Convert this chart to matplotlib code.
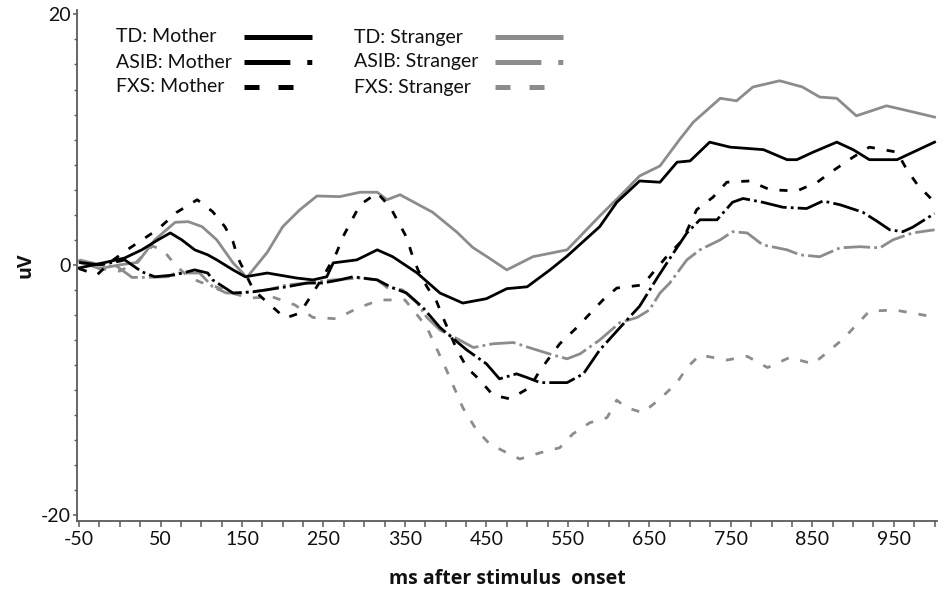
import matplotlib
matplotlib.use('Agg')
import matplotlib.pyplot as plt
from matplotlib.lines import Line2D
from matplotlib.ticker import MultipleLocator, FixedLocator

plt.rcParams['font.family'] = ['Lato', 'DejaVu Sans']
plt.rcParams['lines.scale_dashes'] = False
plt.rcParams['axes.unicode_minus'] = False

BLACK = '#000000'
GRAY = '#8c8c8c'
TEXT = '#111111'
AXIS = '#5a5a5a'

# TD: Mother (black solid)
td_m_t = [-50, -14, 6, 27, 47, 62, 76, 92, 108, 119, 139, 154, 181, 217, 237, 254, 262, 291, 316,
          335, 365, 393, 421, 450, 475, 500, 528, 549, 589, 610, 638, 663, 684, 700, 724, 749, 790,
          819, 831, 851, 880, 900, 920, 954, 1000]
td_m_v = [-0.25, 0.25, 0.55, 1.2, 2.0, 2.55, 2.0, 1.2, 0.8, 0.4, -0.4, -0.95, -0.65, -1.05, -1.2,
          -0.95, 0.16, 0.4, 1.2, 0.65, -0.65, -2.25, -3.05, -2.7, -1.9, -1.75, -0.4, 0.7, 3.05, 5.0,
          6.7, 6.6, 8.2, 8.3, 9.8, 9.4, 9.2, 8.4, 8.4, 9.0, 9.8, 9.2, 8.4, 8.4, 9.8]

# ASIB: Mother (black dash-dot)
asib_m_t = [-50, -25, 0, 6, 27, 43, 68, 92, 108, 114, 139, 164, 205, 230, 249, 270, 286, 316, 332,
            352, 372, 393, 426, 450, 466, 487, 500, 516, 549, 569, 589, 614, 638, 660, 680, 696,
            712, 733, 752, 765, 789, 814, 843, 863, 884, 912, 929, 945, 961, 973, 1000]
asib_m_v = [0.2, 0.0, 0.3, 0.4, -0.55, -0.95, -0.8, -0.4, -0.65, -1.2, -2.25, -2.15, -1.75, -1.45,
            -1.45, -1.2, -0.95, -1.2, -1.75, -2.25, -3.4, -5.0, -6.8, -7.9, -9.1, -8.7, -9.0, -9.4,
            -9.4, -8.7, -6.8, -5.0, -3.3, -1.0, 1.0, 2.55, 3.6, 3.6, 5.0, 5.3, 5.0, 4.6, 4.5, 5.1,
            4.8, 4.2, 3.5, 2.8, 2.65, 3.0, 4.1]

# FXS: Mother (black short dashes)
fxs_m_t = [-50, -28, -10, 9, 46, 70, 95, 114, 129, 139, 145, 164, 182, 203, 221, 233, 250, 266, 274,
           285, 295, 316, 332, 342, 352, 358, 366, 377, 389, 397, 414, 426, 442, 458, 479, 503, 516,
           540, 561, 577, 593, 610, 642, 654, 671, 691, 708, 728, 745, 773, 798, 831, 856, 875, 900,
           920, 954, 966, 979, 1000]
fxs_m_v = [-0.3, -0.8, 0.3, 1.2, 2.8, 4.2, 5.2, 4.25, 3.05, 1.85, 0.56, -2.0, -3.05, -4.25, -3.85,
           -2.65, -0.9, 0.96, 2.25, 3.6, 4.8, 5.75, 4.6, 3.4, 2.2, 0.96, -0.4, -1.75, -2.95, -4.25,
           -6.8, -8.2, -9.2, -10.4, -10.7, -9.8, -8.4, -6.3, -5.0, -3.9, -2.8, -1.85, -1.6, -0.65,
           0.65, 2.0, 4.4, 5.4, 6.6, 6.7, 6.0, 5.9, 6.6, 7.5, 8.6, 9.4, 9.0, 7.6, 6.4, 5.0]

# TD: Stranger (gray solid)
td_s_t = [-50, -25, 0, 22, 43, 68, 84, 101, 119, 139, 156, 181, 200, 221, 242, 270, 295, 316, 328,
          344, 384, 414, 433, 452, 475, 507, 549, 589, 614, 638, 663, 687, 704, 737, 757, 777, 810,
          838, 859, 880, 904, 941, 961, 1000]
td_s_v = [0.3, -0.3, 0.0, 0.2, 2.0, 3.4, 3.45, 3.05, 2.0, 0.16, -1.0, 1.0, 3.05, 4.4, 5.5, 5.45,
          5.8, 5.8, 5.2, 5.6, 4.2, 2.6, 1.4, 0.6, -0.4, 0.65, 1.2, 3.9, 5.5, 7.1, 7.9, 10.0, 11.4,
          13.3, 13.1, 14.2, 14.7, 14.2, 13.4, 13.3, 11.9, 12.7, 12.4, 11.8]

# ASIB: Stranger (gray dash-dot)
asib_s_t = [-50, -14, -6, 15, 31, 59, 68, 98, 114, 131, 147, 181, 205, 230, 262, 295, 316, 328, 347,
            365, 377, 393, 417, 434, 458, 483, 507, 532, 549, 565, 589, 614, 635, 650, 663, 675,
            696, 712, 737, 752, 770, 789, 819, 835, 859, 884, 908, 933, 949, 973, 1000]
asib_s_v = [0.4, -0.15, 0.0, -1.0, -1.0, -0.95, -0.65, -0.65, -1.75, -2.25, -2.25, -2.0, -1.6,
            -1.45, -1.2, -1.05, -1.2, -1.8, -2.0, -3.05, -4.2, -5.2, -6.0, -6.6, -6.3, -6.2, -6.7,
            -7.2, -7.5, -7.1, -6.0, -4.6, -4.2, -3.6, -2.25, -1.45, 0.4, 1.2, 2.0, 2.65, 2.55, 1.6,
            1.2, 0.8, 0.65, 1.36, 1.45, 1.36, 2.0, 2.55, 2.8]

# FXS: Stranger (gray short dashes)
fxs_s_t = [-50, -25, 0, 20, 40, 53, 68, 85, 100, 120, 140, 160, 187, 215, 237, 266, 292, 319, 350,
           365, 377, 401, 421, 438, 454, 475, 491, 516, 540, 556, 577, 598, 610, 622, 642, 663, 684,
           696, 712, 745, 770, 795, 822, 851, 868, 888, 904, 920, 951, 986, 1000]
fxs_s_v = [0.2, -0.3, -0.5, 0.2, 1.5, 1.2, 0.0, -1.0, -1.4, -1.8, -2.3, -2.65, -2.55, -3.2, -4.2,
           -4.3, -3.45, -2.8, -2.8, -4.0, -5.0, -8.4, -11.4, -13.2, -14.3, -15.0, -15.5, -15.0,
           -14.6, -13.5, -12.6, -12.2, -10.8, -11.4, -11.8, -10.7, -9.4, -8.2, -7.2, -7.6, -7.3,
           -8.2, -7.4, -7.9, -7.0, -5.9, -4.8, -3.7, -3.6, -4.0, -4.2]

x_ticks = [-50, 50, 150, 250, 350, 450, 550, 650, 750, 850, 950]
y_ticks = [-20, 0, 20]

# line styles: plot dashes / legend dashes (points)
dash_plot = {'solid': '-', 'dashdot': (0, (19, 3, 2, 3)), 'dash': (0, (5.8, 8.6))}
dash_leg = {'solid': '-', 'dashdot': (0, (33, 12.2, 3.6, 12.2)), 'dash': (0, (10.8, 13.7))}

series = [
    ('TD: Mother', td_m_t, td_m_v, BLACK, 'solid'),
    ('ASIB: Mother', asib_m_t, asib_m_v, BLACK, 'dashdot'),
    ('FXS: Mother', fxs_m_t, fxs_m_v, BLACK, 'dash'),
    ('TD: Stranger', td_s_t, td_s_v, GRAY, 'solid'),
    ('ASIB: Stranger', asib_s_t, asib_s_v, GRAY, 'dashdot'),
    ('FXS: Stranger', fxs_s_t, fxs_s_v, GRAY, 'dash'),
]

W, H = 943, 591
fig = plt.figure(figsize=(W / 100, H / 100), dpi=100)
ax = fig.add_axes([77 / W, 1 - 521 / H, (937 - 77) / W, (521 - 10) / H])

# stranger (gray) drawn first, mothers on top
for label, t, v, col, sty in series[3:] + series[:3]:
    ax.plot(t, v, color=col, lw=2.0, linestyle=dash_plot[sty])

ax.set_xlim(-52.5, 1003)
ax.set_ylim(-20.45, 20.35)

for s in ['top', 'right']:
    ax.spines[s].set_visible(False)
for s in ['left', 'bottom']:
    ax.spines[s].set_color(AXIS)
    ax.spines[s].set_linewidth(1.3)

ax.xaxis.set_major_locator(FixedLocator(x_ticks))
ax.xaxis.set_minor_locator(MultipleLocator(25))
ax.yaxis.set_major_locator(FixedLocator(y_ticks))
ax.yaxis.set_minor_locator(MultipleLocator(2))
ax.tick_params(axis='x', which='both', direction='out', length=4, width=1.1, color=AXIS,
               labelsize=14, labelcolor=TEXT, pad=3)
ax.tick_params(axis='y', which='major', direction='out', length=3, width=1.1, color=AXIS,
               labelsize=14, labelcolor=TEXT, pad=1.5)
ax.tick_params(axis='y', which='minor', direction='out', length=2.2, width=1.0, color=AXIS)

ax.set_xlabel('ms after stimulus  onset', fontsize=14, fontweight='bold', color=TEXT,
              labelpad=15, family=['Open Sans', 'DejaVu Sans'])
ax.set_ylabel('uV', fontsize=14, fontweight='bold', color=TEXT, labelpad=4,
              family=['Open Sans', 'DejaVu Sans'])

# legend: two columns, text followed by line sample
col_text_x = [116, 354]
col_line_x = [244, 495]
row_y = [37, 62, 87]
line_len = 68
for i, (label, t, v, col, sty) in enumerate(series):
    c, r = divmod(i, 3)
    y = 1 - row_y[r] / H
    fig.text(col_text_x[c] / W, y, label, fontsize=14, color=TEXT, va='center', ha='left')
    x0 = col_line_x[c] / W
    x1 = (col_line_x[c] + line_len) / W
    fig.add_artist(Line2D([x0, x1], [y, y], transform=fig.transFigure, color=col, lw=3.6,
                          linestyle=dash_leg[sty], solid_capstyle='butt', dash_capstyle='butt'))

fig.savefig('out.png', dpi=100)
